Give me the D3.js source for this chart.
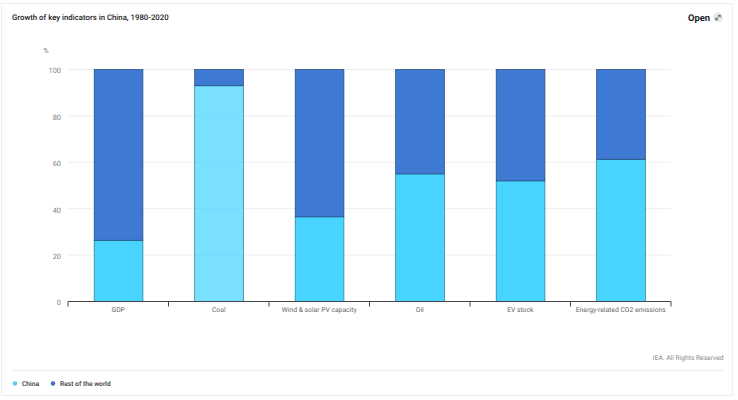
<!DOCTYPE html>
<html>
<head>
<meta charset="utf-8">
<script src="https://cdn.jsdelivr.net/npm/d3@7.9.0/dist/d3.min.js"></script>
<style>
  html, body { margin: 0; padding: 0; background: #fff; }
  svg { display: block; font-family: Roboto, Inter, sans-serif; text-rendering: geometricPrecision; }
</style>
</head>
<body>
<svg id="chart" width="738" height="400"></svg>
<script>
const categories = ["GDP", "Coal", "Wind & solar PV capacity", "Oil", "EV stock", "Energy-related CO2 emissions"];
const china = [26.4, 93, 36.5, 55, 52, 61.3];
const rest = [73.6, 7, 63.5, 45, 48, 38.7];
const yTicks = [0, 20, 40, 60, 80, 100];
const seriesNames = ["China", "Rest of the world"];
const colors = ["#47d4ff", "#3e7ad3"];

const margin = { top: 69.5, left: 68, right: 67, bottom: 98.5 };
const width = 738 - margin.left - margin.right;
const height = 400 - margin.top - margin.bottom;

const svg = d3.select("#chart");

// outer card
svg.append("rect")
  .attr("x", 1.5).attr("y", 3.5)
  .attr("width", 731).attr("height", 392)
  .attr("fill", "#fff").attr("stroke", "#eeeeee");

svg.append("text")
  .attr("x", 12).attr("y", 19.5)
  .attr("font-size", 7.8).attr("font-weight", 500).attr("fill", "#1b1b1f")
  .text("Growth of key indicators in China, 1980-2020");

svg.append("text")
  .attr("x", 688).attr("y", 20.5)
  .attr("font-size", 9.4).attr("font-weight", 700).attr("fill", "#1b1b1f")
  .text("Open");

// expand icon
const icon = svg.append("g").attr("transform", "translate(718,17.5)");
icon.append("circle").attr("r", 5).attr("fill", "#e8e8e8");
icon.append("path")
  .attr("d", "M-2.2,2.2L2.2,-2.2M0,-2.2H2.2V0M-2.2,0V2.2H0")
  .attr("fill", "none").attr("stroke", "#444").attr("stroke-width", 0.8);

const g = svg.append("g").attr("transform", `translate(${margin.left},${margin.top})`);

const x = d3.scaleBand().domain(categories).range([0, width]).paddingInner(0.515).paddingOuter(0.2575);
const y = d3.scaleLinear().domain([0, 100]).range([height, 0]);

g.append("g")
  .selectAll("line")
  .data(yTicks.filter(d => d > 0))
  .join("line")
  .attr("x1", 0).attr("x2", width)
  .attr("y1", d => y(d)).attr("y2", d => y(d))
  .attr("stroke", "#eeeeee");

const yAxis = g.append("g")
  .call(d3.axisLeft(y).tickValues(yTicks).tickSize(0).tickPadding(7));
yAxis.select(".domain").remove();
yAxis.selectAll("text")
  .attr("font-size", 7.4).attr("font-family", "Roboto, sans-serif").attr("fill", "#808080").attr("dy", "0.45em");

g.append("text")
  .attr("x", -24.5).attr("y", -17)
  .attr("font-size", 7).attr("fill", "#808080")
  .text("%");

const stacked = d3.stack().keys([0, 1]).value((i, k) => [china, rest][k][i])(categories.map((_, i) => i));

g.selectAll(".series")
  .data(stacked)
  .join("g")
  .attr("class", "series")
  .selectAll("rect")
  .data(s => s.map(d => ({ d, k: s.key })))
  .join("rect")
  .attr("x", p => x(categories[p.d.data]) + 0.3)
  .attr("width", x.bandwidth())
  .attr("y", p => y(p.d[1]))
  .attr("height", p => y(p.d[0]) - y(p.d[1]))
  // Coal's China segment is the highlighted one in the picture
  .attr("fill", p => colors[p.k])
  .attr("fill-opacity", p => (p.k === 0 && categories[p.d.data] === "Coal") ? 0.72 : 1)
  .attr("stroke", p => d3.color(colors[p.k]).darker(1.6))
  .attr("stroke-width", 0.7);

// category axis with ticks at band edges
const edges = d3.range(categories.length + 1).map(i => i * x.step());
const xAxisG = g.append("g").attr("transform", `translate(0,${height})`);
xAxisG.append("line").attr("x1", 0).attr("x2", width).attr("stroke", "#444");
xAxisG.selectAll(".edge")
  .data(edges)
  .join("line")
  .attr("class", "edge")
  .attr("x1", d => d).attr("x2", d => d)
  .attr("y1", 0).attr("y2", 5)
  .attr("stroke", "#444");
xAxisG.selectAll(".label")
  .data(categories)
  .join("text")
  .attr("class", "label")
  .attr("x", d => x(d) + x.bandwidth() / 2)
  .attr("y", 10)
  .attr("text-anchor", "middle")
  .attr("font-size", 6.75).attr("fill", "#666")
  .text(d => d);

svg.append("text")
  .attr("x", 723.5).attr("y", 360)
  .attr("text-anchor", "end")
  .attr("font-size", 6.7).attr("fill", "#888")
  .text("IEA. All Rights Reserved");

svg.append("line")
  .attr("x1", 12).attr("x2", 724)
  .attr("y1", 370.5).attr("y2", 370.5)
  .attr("stroke", "#eeeeee");

// legend
const legendX = [15, 53];
const legend = svg.selectAll(".legend")
  .data(seriesNames)
  .join("g")
  .attr("class", "legend")
  .attr("transform", (d, i) => `translate(${legendX[i]},383.5)`);
legend.append("circle").attr("r", 2.2).attr("fill", (d, i) => i === 0 ? "#5ccbee" : "#3e6fc4");
legend.append("text")
  .attr("x", 7).attr("y", 2.5)
  .attr("font-size", 6.7).attr("font-weight", 500).attr("fill", "#333")
  .text(d => d);
</script>
</body>
</html>
